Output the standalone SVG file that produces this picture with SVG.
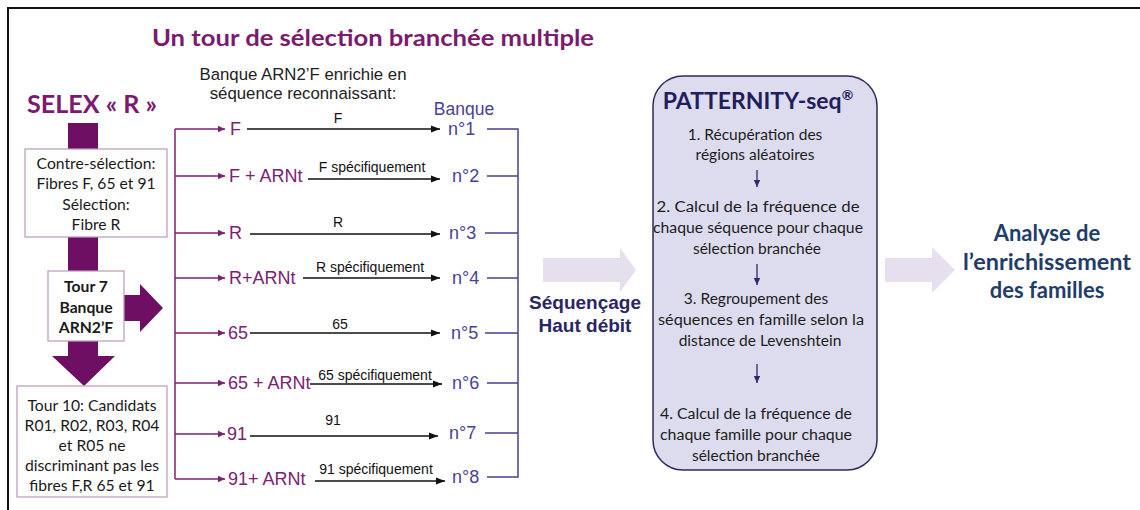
<svg xmlns="http://www.w3.org/2000/svg" width="1140" height="510" viewBox="0 0 1140 510">
<style>
.cal{font-family:Lato,"Open Sans","DejaVu Sans",sans-serif;}
.ar{font-family:"Liberation Sans",Arial,sans-serif;}
.box{fill:#ffffff;stroke:#b89bb8;stroke-width:1.2;}
.bar{fill:#6e0f63;}
.btxt{font-size:15.7px;fill:#1a1a1a;text-anchor:middle;}
.plab{font-size:18px;fill:#7b2172;}
.blab{font-size:14px;fill:#111;text-anchor:middle;}
.num{font-size:18px;fill:#4a3f98;}
.pline{stroke:#7b2172;stroke-width:1.5;fill:none;}
.kline{stroke:#111;stroke-width:1.3;fill:none;}
.nline{stroke:#4a3f98;stroke-width:1.5;fill:none;}
.ptx{font-size:15.5px;fill:#1c1c1c;text-anchor:middle;}
.light{fill:#e6e0ee;}
</style>
<defs>
<marker id="ph" markerUnits="userSpaceOnUse" markerWidth="8" markerHeight="8" refX="7" refY="4" orient="auto"><path d="M0,0.8 L7,4 L0,7.2 z" fill="#7b2172"/></marker>
<marker id="kh" markerUnits="userSpaceOnUse" markerWidth="10" markerHeight="8" refX="9" refY="4" orient="auto"><path d="M0,0.5 L9,4 L0,7.5 z" fill="#111"/></marker>
<marker id="nh" markerUnits="userSpaceOnUse" markerWidth="8" markerHeight="8" refX="7" refY="4" orient="auto"><path d="M0,0.8 L7,4 L0,7.2 z" fill="#2d2a6e"/></marker>
</defs>
<rect x="0" y="0" width="1140" height="510" fill="#ffffff"/>
<path d="M7,8 H1140 M8,8 V510" stroke="#111" stroke-width="2" fill="none"/>

<g id="title"><text class="cal" x="373" y="46" font-size="23" font-weight="bold" fill="#7b1a6e" text-anchor="middle" textLength="442" lengthAdjust="spacingAndGlyphs">Un tour de sélection branchée multiple</text></g>

<g id="selex"><text class="cal" x="92" y="113" font-size="25" font-weight="bold" fill="#7b1a6e" text-anchor="middle" textLength="130" lengthAdjust="spacingAndGlyphs">SELEX « R »</text></g>

<g id="left-shapes">
<rect class="bar" x="68" y="123" width="30" height="26"/>
<rect class="bar" x="68" y="236" width="30" height="36"/>
<path class="bar" d="M68,341 H98 V356 H115 L84,386 L52,356 H68 Z"/>
<path class="bar" d="M123,295 H140 V284 L163,308 L140,332 V321 H123 Z"/>
</g>

<g id="box-contre">
<rect class="box" x="25" y="149" width="142" height="88"/>
<text class="cal btxt" x="96" y="169">Contre-sélection:</text>
<text class="cal btxt" x="96" y="189">Fibres F, 65 et 91</text>
<text class="cal btxt" x="96" y="210">Sélection:</text>
<text class="cal btxt" x="96" y="230">Fibre R</text>
</g>

<g id="box-tour7">
<rect class="box" x="48" y="271" width="76" height="70"/>
<text class="cal btxt" x="86" y="292" font-weight="bold">Tour 7</text>
<text class="cal btxt" x="86" y="313" font-weight="bold">Banque</text>
<text class="cal btxt" x="86" y="333" font-weight="bold">ARN2’F</text>
</g>

<g id="box-tour10">
<rect class="box" x="17" y="386" width="150" height="111"/>
<text class="cal btxt" x="92" y="411">Tour 10: Candidats</text>
<text class="cal btxt" x="92" y="431">R01, R02, R03, R04</text>
<text class="cal btxt" x="92" y="451">et R05 ne</text>
<text class="cal btxt" x="92" y="471">discriminant pas les</text>
<text class="cal btxt" x="92" y="491">fibres F,R 65 et 91</text>
</g>

<g id="banque-header">
<text class="ar" x="303" y="80" font-size="16.8" fill="#222" text-anchor="middle">Banque ARN2’F enrichie en</text>
<text class="ar" x="303" y="99" font-size="16.8" fill="#222" text-anchor="middle">séquence reconnaissant:</text>
<text class="ar" x="464" y="115" font-size="17.5" fill="#4a3f98" text-anchor="middle">Banque</text>
</g>

<g id="rows">
<text class="ar plab" x="230" y="135">F</text>
<text class="ar plab" x="229" y="182">F + ARNt</text>
<text class="ar plab" x="229" y="239">R</text>
<text class="ar plab" x="229" y="284">R+ARNt</text>
<text class="ar plab" x="228" y="339">65</text>
<text class="ar plab" x="228" y="389">65 + ARNt</text>
<text class="ar plab" x="227" y="440">91</text>
<text class="ar plab" x="228" y="485">91+ ARNt</text>

<text class="ar blab" x="338" y="123">F</text>
<text class="ar blab" x="372" y="172">F spécifiquement</text>
<text class="ar blab" x="338" y="227">R</text>
<text class="ar blab" x="370" y="272">R spécifiquement</text>
<text class="ar blab" x="340" y="329">65</text>
<text class="ar blab" x="375" y="380">65 spécifiquement</text>
<text class="ar blab" x="333" y="425">91</text>
<text class="ar blab" x="376" y="474">91 spécifiquement</text>

<text class="ar num" x="448" y="135">n°1</text>
<text class="ar num" x="452" y="182">n°2</text>
<text class="ar num" x="449" y="239">n°3</text>
<text class="ar num" x="452" y="284">n°4</text>
<text class="ar num" x="451" y="339">n°5</text>
<text class="ar num" x="452" y="389">n°6</text>
<text class="ar num" x="449" y="439">n°7</text>
<text class="ar num" x="452" y="483">n°8</text>
</g>

<g id="sequencage">
<path class="light" d="M543,258 H620 V248 L636,270 L620,292 V282 H543 Z"/>
<text class="ar" x="585" y="309" font-size="19" font-weight="bold" fill="#2a2565" text-anchor="middle">Séquençage</text>
<text class="ar" x="585" y="332" font-size="19" font-weight="bold" fill="#2a2565" text-anchor="middle">Haut débit</text>
</g>

<g id="patternity">
<rect x="653" y="76" width="224" height="394" rx="30" ry="30" fill="#dcdcee" stroke="#2d2a5e" stroke-width="1.5"/>
<text class="cal" x="758" y="109" font-size="23" font-weight="bold" fill="#221e5c" text-anchor="middle">PATTERNITY-seq<tspan font-size="14" dy="-9">®</tspan></text>
<text class="cal ptx" x="755" y="140">1. Récupération des</text>
<text class="cal ptx" x="755" y="160">régions aléatoires</text>
<text class="cal ptx" x="758" y="212" textLength="203" lengthAdjust="spacingAndGlyphs">2. Calcul de la fréquence de</text>
<text class="cal ptx" x="758" y="233" textLength="210" lengthAdjust="spacingAndGlyphs">chaque séquence pour chaque</text>
<text class="cal ptx" x="757" y="254">sélection branchée</text>
<text class="cal ptx" x="756" y="304">3. Regroupement des</text>
<text class="cal ptx" x="761" y="325" textLength="206" lengthAdjust="spacingAndGlyphs">séquences en famille selon la</text>
<text class="cal ptx" x="760" y="346">distance de Levenshtein</text>
<text class="cal ptx" x="756" y="419" textLength="192" lengthAdjust="spacingAndGlyphs">4. Calcul de la fréquence de</text>
<text class="cal ptx" x="756" y="440" textLength="192" lengthAdjust="spacingAndGlyphs">chaque famille pour chaque</text>
<text class="cal ptx" x="756" y="461">sélection branchée</text>
</g>

<g id="analyse">
<path class="light" d="M885,258 H932 V247 L955,270 L932,293 V282 H885 Z"/>
<text class="cal" x="1047" y="241" font-size="22" font-weight="bold" fill="#1f3d6b" text-anchor="middle">Analyse de</text>
<text class="cal" x="1047" y="270" font-size="22" font-weight="bold" fill="#1f3d6b" text-anchor="middle" textLength="168" lengthAdjust="spacingAndGlyphs">l’enrichissement</text>
<text class="cal" x="1047" y="298" font-size="22" font-weight="bold" fill="#1f3d6b" text-anchor="middle">des familles</text>
</g>

<g id="connectors">
<path class="pline" d="M175,129 V479"/>
<line class="pline" x1="175" y1="129" x2="225" y2="129" marker-end="url(#ph)"/>
<line class="pline" x1="175" y1="176" x2="225" y2="176" marker-end="url(#ph)"/>
<line class="pline" x1="175" y1="233" x2="225" y2="233" marker-end="url(#ph)"/>
<line class="pline" x1="175" y1="278" x2="225" y2="278" marker-end="url(#ph)"/>
<line class="pline" x1="175" y1="333" x2="225" y2="333" marker-end="url(#ph)"/>
<line class="pline" x1="175" y1="383" x2="225" y2="383" marker-end="url(#ph)"/>
<line class="pline" x1="175" y1="434" x2="225" y2="434" marker-end="url(#ph)"/>
<line class="pline" x1="175" y1="479" x2="225" y2="479" marker-end="url(#ph)"/>

<line class="kline" x1="247" y1="129" x2="440" y2="129" marker-end="url(#kh)"/>
<line class="kline" x1="308" y1="179" x2="440" y2="179" marker-end="url(#kh)"/>
<line class="kline" x1="250" y1="234" x2="440" y2="234" marker-end="url(#kh)"/>
<line class="kline" x1="303" y1="278" x2="440" y2="278" marker-end="url(#kh)"/>
<line class="kline" x1="250" y1="333" x2="440" y2="333" marker-end="url(#kh)"/>
<line class="kline" x1="310" y1="384" x2="442" y2="384" marker-end="url(#kh)"/>
<line class="kline" x1="250" y1="436" x2="438" y2="436" marker-end="url(#kh)"/>
<line class="kline" x1="315" y1="481" x2="445" y2="481" marker-end="url(#kh)"/>

<path class="nline" d="M487,129 H518 V477 H487 M487,176 H518 M485,233 H518 M487,278 H518 M485,333 H518 M487,383 H518 M485,433 H518"/>

<line x1="757" y1="170" x2="757" y2="187" stroke="#2d2a6e" stroke-width="1.3" marker-end="url(#nh)"/>
<line x1="757" y1="264" x2="757" y2="285" stroke="#2d2a6e" stroke-width="1.3" marker-end="url(#nh)"/>
<line x1="757" y1="364" x2="757" y2="383" stroke="#2d2a6e" stroke-width="1.3" marker-end="url(#nh)"/>
</g>
</svg>
